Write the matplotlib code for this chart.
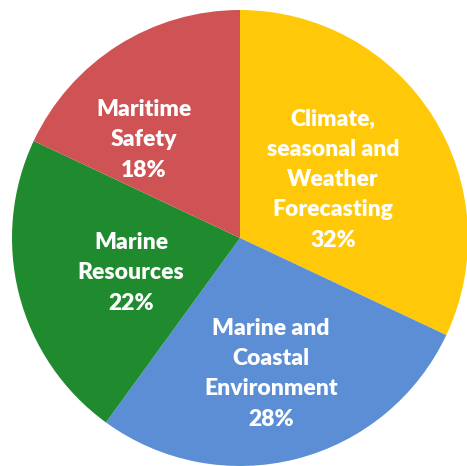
from matplotlib import pyplot as plt

# Slice data, clockwise from the top
categories = ['Climate,\nseasonal and\nWeather\nForecasting',
              'Marine and\nCoastal\nEnvironment',
              'Marine\nResources',
              'Maritime\nSafety']
shares = [32, 28, 22, 18]

# Styling
colours = ['#FFC90A', '#5B8ED5', '#1F8A2E', '#CF5355']
# label centres in units of the radius
label_xy = [(0.408, 0.256), (0.136, -0.595), (-0.478, -0.152), (-0.421, 0.431)]

plt.rcParams['font.family'] = ['Lato', 'DejaVu Sans']

fig = plt.figure(figsize=(4.67, 4.66), dpi=100)
ax = fig.add_axes([0, 0, 1, 1])

# Centre of the pie in pixels and its radius
cx, cy, r = 240, 238, 228
wedges, _ = ax.pie(shares, colors=colours, startangle=90, counterclock=False,
                   radius=1, wedgeprops=dict(linewidth=0))

for name, pct, (tx, ty) in zip(categories, shares, label_xy):
    ax.text(tx, ty, f'{name}\n{pct}%',
            ha='center', va='center', color='white', fontsize=16.5,
            fontweight='heavy', linespacing=1.55)

ax.set_xlim(-cx / r, (467 - cx) / r)
ax.set_ylim(-(466 - cy) / r, cy / r)
ax.set_aspect('auto')
ax.axis('off')

plt.savefig('out.png', dpi=100)
